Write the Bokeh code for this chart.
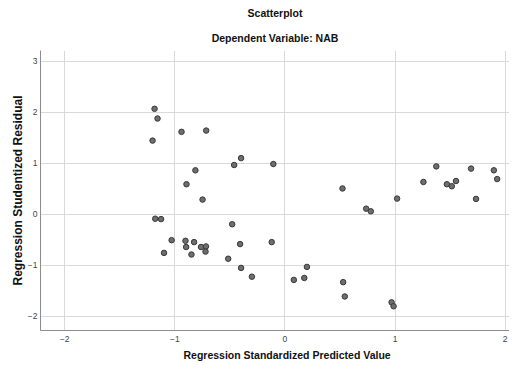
from bokeh.plotting import figure
from bokeh.models import Title, FixedTicker, Range1d
from bokeh.embed import file_html
from bokeh.resources import INLINE

# Regression Standardized Predicted Value
pred = [-1.184, -1.157, -1.202, -0.939, -0.715, -0.398, -0.461, -0.105, -0.813, -0.894,
        -0.748, -1.178, -1.125, -0.479, -1.029, -0.903, -0.825, -0.407, -0.120, -1.098,
        -0.897, -0.762, -0.717, -0.849, -0.721, -0.515, -0.398, -0.300, 0.200, 0.081,
        0.176, 1.375, 1.691, 1.898, 1.928, 0.523, 1.258, 1.471, 1.516, 1.554,
        1.019, 1.736, 0.738, 0.780, 0.529, 0.544, 0.969, 0.987]
# Regression Studentized Residual
resid = [2.067, 1.876, 1.443, 1.615, 1.640, 1.100, 0.965, 0.984, 0.861, 0.588,
         0.287, -0.088, -0.096, -0.197, -0.509, -0.522, -0.547, -0.586, -0.547, -0.758,
         -0.643, -0.643, -0.632, -0.790, -0.733, -0.873, -1.053, -1.225, -1.033, -1.288,
         -1.250, 0.938, 0.894, 0.861, 0.689, 0.505, 0.632, 0.588, 0.549, 0.651,
         0.306, 0.300, 0.109, 0.057, -1.332, -1.613, -1.728, -1.805]

x_ticks = [-2, -1, 0, 1, 2]
y_ticks = [-2, -1, 0, 1, 2, 3]

FONT = "Liberation Sans"

p = figure(width=509, height=362, output_backend="svg", toolbar_location=None,
           title=None,
           x_range=Range1d(-2.22, 2.04), y_range=Range1d(-2.28, 3.21),
           min_border_left=40, min_border_right=0, min_border_top=10,
           min_border_bottom=30)

sub = Title(text="Dependent Variable: NAB", align="center", text_font=FONT,
            text_font_size="10.5px", text_font_style="bold", text_color="#111111",
            standoff=13)
main = Title(text="Scatterplot", align="center", text_font=FONT,
             text_font_size="10.5px", text_font_style="bold", text_color="#111111",
             standoff=9)
p.add_layout(sub, "above")
p.add_layout(main, "above")

xtitle = Title(text="Regression Standardized Predicted Value", align="left",
               offset=143, text_font=FONT, text_font_size="10.5px",
               text_font_style="bold", text_color="#111111", standoff=4)
p.add_layout(xtitle, "below")

p.scatter(pred, resid, size=5.5, fill_color="#6e6e6e", line_color="#383838",
          line_width=1)

p.outline_line_color = None
p.background_fill_color = "white"
p.border_fill_color = "white"

for g in (p.xgrid[0], p.ygrid[0]):
    g.grid_line_color = "#d9d9d9"
    g.grid_line_width = 1

p.xaxis.ticker = FixedTicker(ticks=x_ticks)
p.yaxis.ticker = FixedTicker(ticks=y_ticks)
p.xgrid.ticker = FixedTicker(ticks=x_ticks)
p.ygrid.ticker = FixedTicker(ticks=y_ticks)

p.yaxis.axis_label = "Regression Studentized Residual"

for ax in (p.xaxis[0], p.yaxis[0]):
    ax.axis_line_color = "#8c8c8c"
    ax.axis_line_width = 1
    ax.major_tick_in = 0
    ax.major_tick_out = 0
    ax.minor_tick_in = 0
    ax.minor_tick_out = 0
    ax.major_label_text_font = FONT
    ax.major_label_text_font_size = "8.5px"
    ax.major_label_text_color = "#444444"
    ax.axis_label_text_font = FONT
    ax.axis_label_text_font_style = "bold"
    ax.axis_label_text_color = "#111111"

p.xaxis.major_label_standoff = 5
p.yaxis.major_label_standoff = 3
p.yaxis.axis_label_text_font_size = "12px"
p.yaxis.axis_label_standoff = 0

open("out.html", "w").write(file_html(p, INLINE))
